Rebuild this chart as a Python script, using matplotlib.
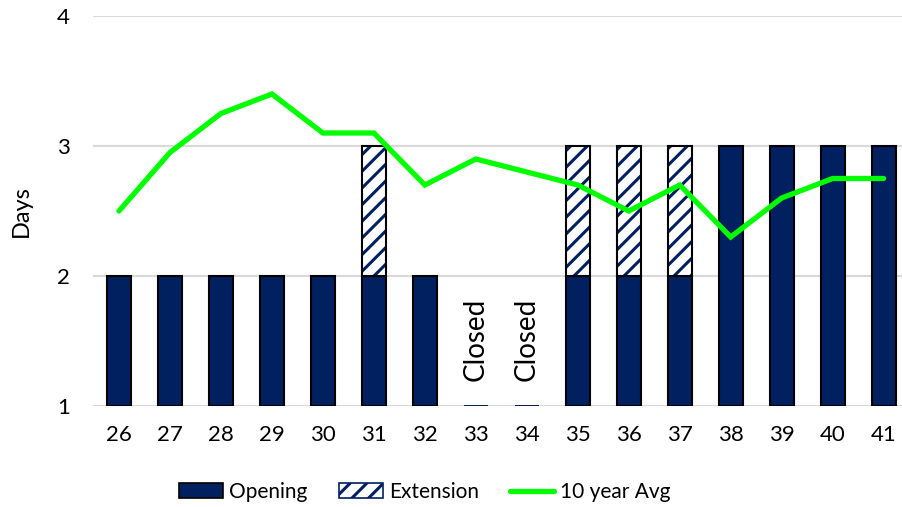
import numpy as np
import matplotlib
matplotlib.use("Agg")
import matplotlib.pyplot as plt
from matplotlib.patches import Patch
from matplotlib.lines import Line2D

plt.rcParams['font.family'] = ['Lato', 'DejaVu Sans']
plt.rcParams['hatch.linewidth'] = 2.2

weeks = ['26', '27', '28', '29', '30', '31', '32', '33', '34',
         '35', '36', '37', '38', '39', '40', '41']
opening = [2, 2, 2, 2, 2, 2, 2, 1.01, 1.01, 2, 2, 2, 3, 3, 3, 3]
extension = [0, 0, 0, 0, 0, 1, 0, 0, 0, 1, 1, 1, 0, 0, 0, 0]
avg10 = [2.5, 2.95, 3.25, 3.4, 3.1, 3.1, 2.7, 2.9, 2.8, 2.7,
         2.5, 2.7, 2.3, 2.6, 2.75, 2.75]
closed = ['33', '34']

navy = '#002060'
green = '#00FF00'
grid = '#D9D9D9'

fig = plt.figure(figsize=(9.03, 5.07), dpi=100)
ax = fig.add_axes([93.5/903, 101/507, 809.5/903, 390/507])

x = np.arange(len(weeks))
op = np.array(opening)
ext = np.array(extension)
w = 0.47

for i in range(len(weeks)):
    if weeks[i] in closed:
        ax.bar(x[i], op[i] - 1, bottom=1, width=w, color=navy, linewidth=0, zorder=3)
    else:
        ax.bar(x[i], op[i] - 1, bottom=1, width=w, color=navy,
               edgecolor='black', linewidth=1.5, zorder=3)
    if ext[i] > 0:
        ax.bar(x[i], ext[i], bottom=op[i], width=w, color='white',
               edgecolor=navy, hatch='//', linewidth=0, zorder=3)
        ax.bar(x[i], ext[i], bottom=op[i], width=w, fill=False,
               edgecolor='black', linewidth=1.5, zorder=4)

ax.plot(x, avg10, color=green, lw=3.8, solid_capstyle='round',
        solid_joinstyle='miter', zorder=5)

for i in range(len(weeks)):
    if weeks[i] in closed:
        ax.text(x[i], 1.51, 'Closed', rotation=90, ha='center', va='center',
                fontsize=20, zorder=6)

ax.set_xlim(-0.5, 15.38)
ax.set_ylim(1, 4)
ax.set_yticks([1, 2, 3, 4])
ax.set_xticks(x)
ax.set_xticklabels(weeks)
ax.tick_params(length=0, labelsize=16)
ax.tick_params(axis='x', pad=14)
ax.tick_params(axis='y', pad=17)
ax.yaxis.grid(True, color=grid, lw=1.5, zorder=0)
ax.set_axisbelow(True)
for s in ['top', 'right', 'left', 'bottom']:
    ax.spines[s].set_visible(False)
ax.set_ylabel('Days', fontsize=17, labelpad=18)

handles = [Patch(facecolor=navy, edgecolor='black', linewidth=1.2),
           Patch(facecolor='white', edgecolor=navy, hatch='//', linewidth=1.2),
           Line2D([0], [0], color=green, lw=3.8, solid_capstyle='round')]
fig.legend(handles, ['Opening', 'Extension', '10 year Avg'], loc='center',
           bbox_to_anchor=(425/903, 1 - 492/507), ncol=3, frameon=False,
           fontsize=15, handlelength=2.1, handletextpad=0.3, columnspacing=1.5)

plt.savefig('out.png', dpi=100)
